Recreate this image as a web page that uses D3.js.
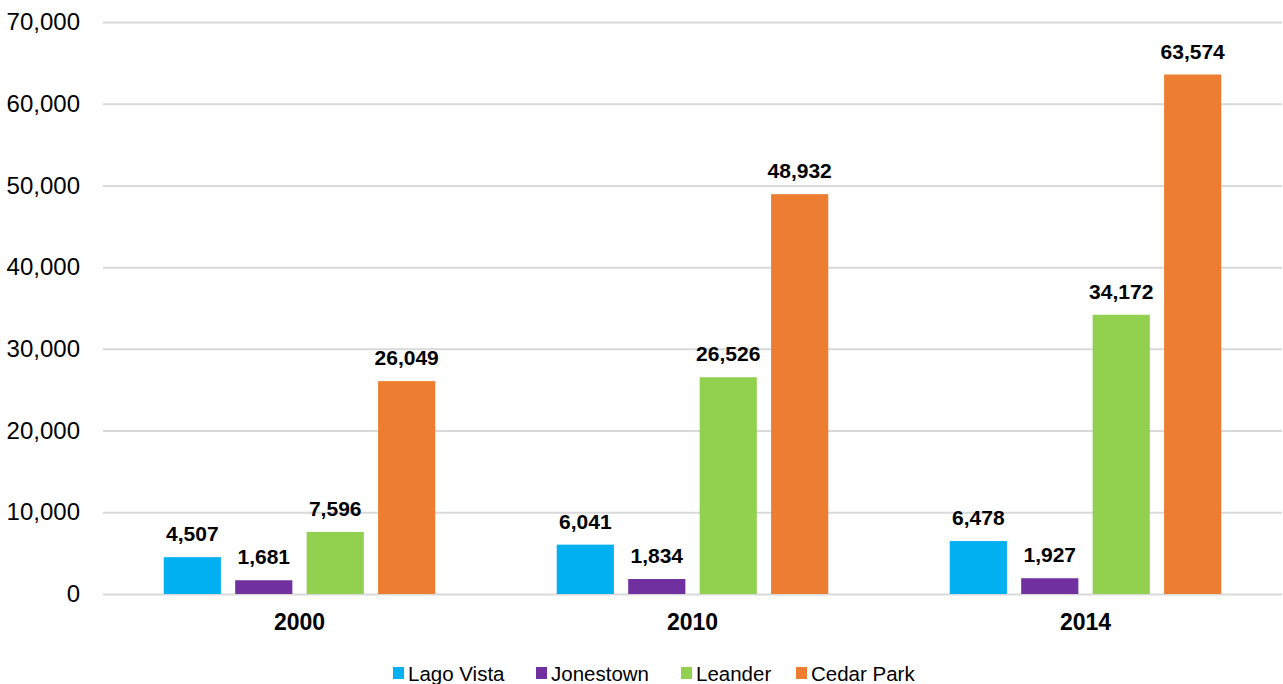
<!DOCTYPE html>
<html>
<head>
<meta charset="utf-8">
<script src="https://cdn.jsdelivr.net/npm/d3@7"></script>
<style>
  body { margin: 0; background: #fff; }
  text { font-family: "Liberation Sans", Arial, sans-serif; }
</style>
</head>
<body>
<div id="container"></div>
<script>
// chart data
const years = ['2000', '2010', '2014'];
const cities = ['Lago Vista', 'Jonestown', 'Leander', 'Cedar Park'];
const lagoVista = [4507, 6041, 6478];
const jonestown = [1681, 1834, 1927];
const leander = [7596, 26526, 34172];
const cedarPark = [26049, 48932, 63574];
const yTicks = [0, 10000, 20000, 30000, 40000, 50000, 60000, 70000];

const colors = ['#00B0F0', '#7030A0', '#92D050', '#ED7D31'];
const seriesValues = [lagoVista, jonestown, leander, cedarPark];

// dimensions
const width = 1283;
const height = 684;
const plotLeft = 103, plotRight = 1282, plotTop = 22, plotBottom = 594;

const svg = d3.select('#container')
              .append('svg')
              .attr('width', width)
              .attr('height', height);

const x0 = d3.scaleBand().domain(years).range([plotLeft, plotRight]);
const x1 = d3.scaleBand()
             .domain(cities)
             .range([0, x0.bandwidth()])
             .paddingInner(0.2)
             .paddingOuter(0.85);
const y = d3.scaleLinear().domain([0, 70000]).range([plotBottom, plotTop]);

const fmt = d3.format(',');

// gridlines + y axis labels
const yAxis = d3.axisLeft(y)
                .tickValues(yTicks)
                .tickFormat(fmt)
                .tickSize(-(plotRight - plotLeft))
                .tickPadding(23);

svg.append('g')
   .attr('transform', `translate(${plotLeft},0)`)
   .call(yAxis)
   .call(g => g.select('.domain').remove())
   .call(g => g.selectAll('line').attr('stroke', '#d9d9d9').attr('stroke-width', 2))
   .call(g => g.selectAll('text')
               .attr('fill', '#000')
               .style('font-size', '24px')
               .style('font-family', '"Liberation Sans", Arial, sans-serif'));

// bars, grouped by year
const rows = [];
years.forEach((yr, i) => {
    cities.forEach((c, j) => {
        rows.push({ year: yr, city: c, value: seriesValues[j][i], color: colors[j] });
    });
});

const bars = svg.append('g');
bars.selectAll('rect')
    .data(rows)
    .enter()
    .append('rect')
    .attr('x', d => x0(d.year) + x1(d.city))
    .attr('y', d => y(d.value))
    .attr('width', x1.bandwidth())
    .attr('height', d => y(0) - y(d.value))
    .attr('fill', d => d.color);

bars.selectAll('text')
    .data(rows)
    .enter()
    .append('text')
    .attr('x', d => x0(d.year) + x1(d.city) + x1.bandwidth() / 2)
    .attr('y', d => y(d.value) - 16)
    .attr('text-anchor', 'middle')
    .style('font-size', '21px')
    .style('font-weight', 'bold')
    .text(d => fmt(d.value));

// category axis labels
const xAxis = d3.axisBottom(x0).tickSize(0).tickPadding(20);
svg.append('g')
   .attr('transform', `translate(0,${plotBottom})`)
   .call(xAxis)
   .call(g => g.select('.domain').remove())
   .call(g => g.selectAll('text')
               .attr('fill', '#000')
               .style('font-size', '23px')
               .style('font-weight', 'bold')
               .style('font-family', '"Liberation Sans", Arial, sans-serif'));

// legend
const legendX = [393, 536, 681, 796];
const legend = svg.append('g');
cities.forEach((c, i) => {
    const g = legend.append('g').attr('transform', `translate(${legendX[i]},673)`);
    g.append('rect')
     .attr('x', 0)
     .attr('y', -6)
     .attr('width', 11)
     .attr('height', 12)
     .attr('fill', colors[i]);
    g.append('text')
     .attr('x', 15)
     .attr('y', 8)
     .style('font-size', '20.5px')
     .text(c);
});
</script>
</body>
</html>
